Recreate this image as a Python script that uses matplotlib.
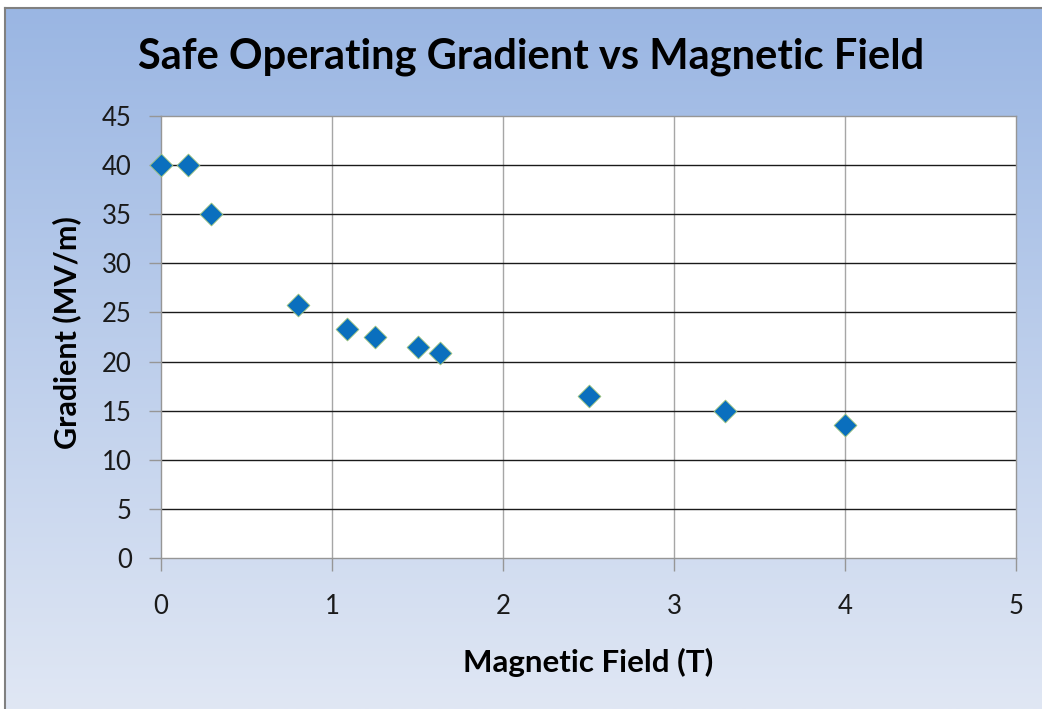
import numpy as np
import matplotlib
matplotlib.use("Agg")
import matplotlib.pyplot as plt
from matplotlib.colors import LinearSegmentedColormap

field_T = [0.0, 0.16, 0.29, 0.80, 1.09, 1.25, 1.50, 1.63, 2.50, 3.30, 4.00]
gradient_MVm = [40.0, 40.0, 35.0, 25.8, 23.3, 22.5, 21.5, 20.9, 16.5, 15.0, 13.5]
x_ticks = [0, 1, 2, 3, 4, 5]
y_ticks = [0, 5, 10, 15, 20, 25, 30, 35, 40, 45]
title = "Safe Operating Gradient vs Magnetic Field"
xlabel = "Magnetic Field (T)"
ylabel = "Gradient (MV/m)"

plt.rcParams['font.family'] = ['Lato', 'DejaVu Sans']

W, H = 1042, 709
fig = plt.figure(figsize=(W / 100, H / 100), dpi=100)
fig.patch.set_facecolor('white')

# gradient background panel
bx0, by1 = 5 / W, 1 - 8 / H
bg = fig.add_axes([bx0, 0, 1 - bx0, by1], zorder=0)
cmap = LinearSegmentedColormap.from_list('bg', ['#9ab6e3', '#e0e7f4'])
grad = np.linspace(0, 1, 256).reshape(-1, 1)
bg.imshow(grad, aspect='auto', cmap=cmap, extent=[0, 1, 0, 1], origin='upper')
bg.set_xlim(0, 1); bg.set_ylim(0, 1)
bg.set_xticks([]); bg.set_yticks([])
for s in ['right', 'bottom']:
    bg.spines[s].set_visible(False)
for s in ['left', 'top']:
    bg.spines[s].set_color('#808080')
    bg.spines[s].set_linewidth(1.5)

ax = fig.add_axes([161 / W, 1 - 558 / H, (1016 - 161) / W, (558 - 116) / H], zorder=1)
ax.set_facecolor('white')
ax.set_xlim(0, 5)
ax.set_ylim(0, 45)
ax.set_xticks(x_ticks)
ax.set_yticks(y_ticks)
ax.set_xticklabels([str(v) for v in x_ticks])
ax.set_yticklabels([str(v) for v in y_ticks])

for v in x_ticks[1:-1]:
    ax.axvline(v, color='#a6a6a6', lw=1.0, zorder=1)
for v in y_ticks[1:-1]:
    ax.axhline(v, color='#1a1a1a', lw=1.0, zorder=1)
for s in ax.spines.values():
    s.set_color('#969696')
    s.set_linewidth(1.0)

ax.tick_params(axis='both', direction='out', length=9, color='#969696', width=1.0,
               labelsize=18.5, labelcolor='#1a1a1a')
ax.tick_params(axis='x', pad=17)
ax.tick_params(axis='y', pad=12)

ax.scatter(field_T, gradient_MVm, marker='D', s=135, color='#0a6fbe',
           edgecolors='#9bc27a', linewidths=0.6, zorder=3, clip_on=False)

fig.text(531 / W, 1 - 57 / H, title, ha='center', va='center', fontsize=30,
         fontweight='bold', color='black')
fig.text(588 / W, 1 - 662 / H, xlabel, ha='center', va='center', fontsize=22.5,
         fontweight='bold', color='black')
fig.text(67 / W, 1 - 333 / H, ylabel, ha='center', va='center', rotation=90,
         fontsize=22, fontweight='bold', color='black')

fig.savefig('out.png', dpi=100, facecolor='white')
